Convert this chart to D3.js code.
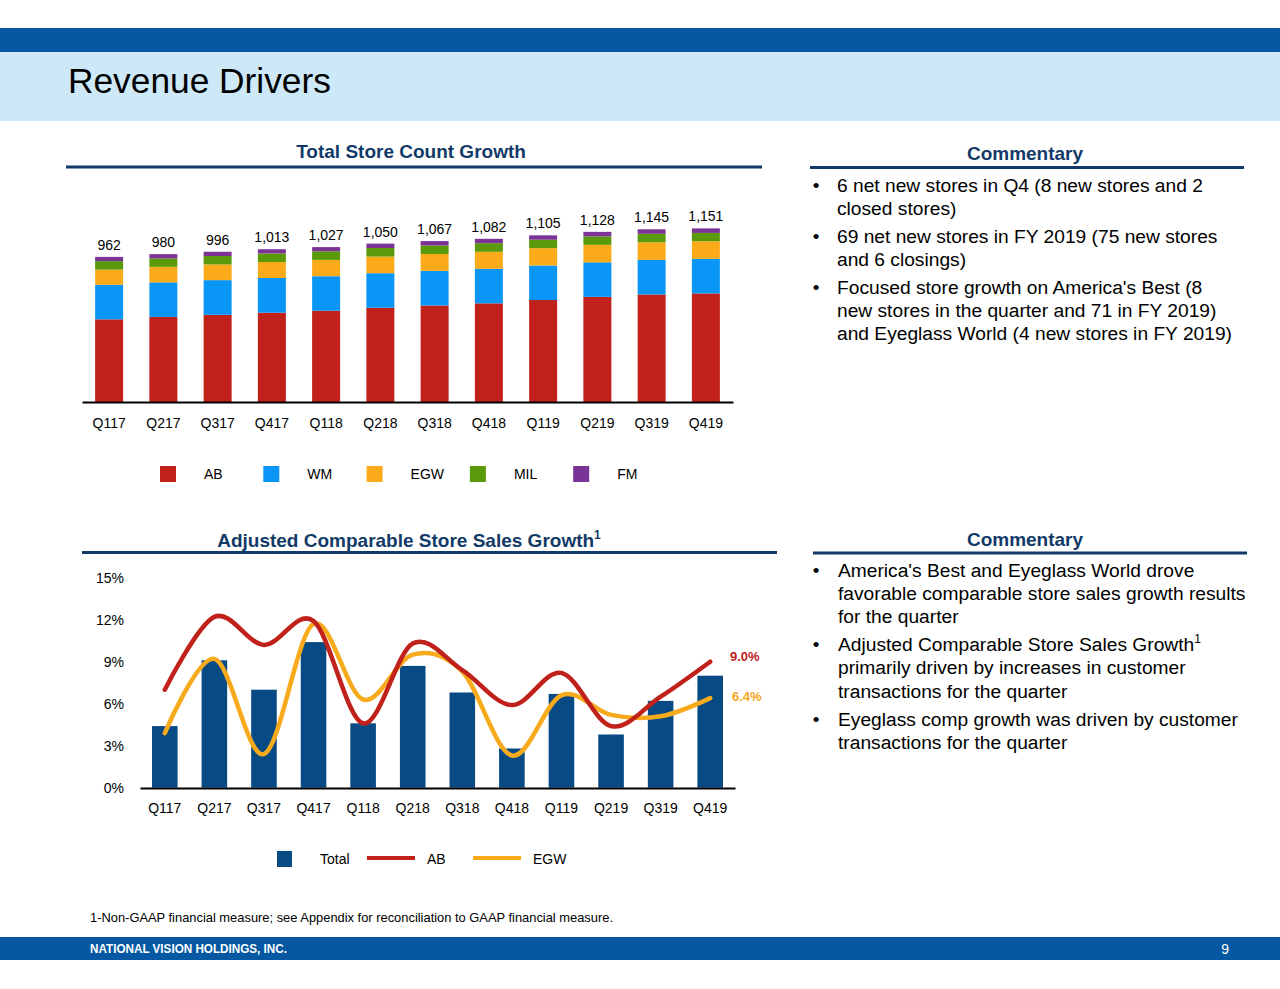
<!DOCTYPE html>
<html><head><meta charset="utf-8">
<script src="https://cdn.jsdelivr.net/npm/d3@7"></script>
<style>
body{margin:0;background:#fff}
svg{display:block;font-family:Arial,"Liberation Sans",sans-serif}
</style>
</head><body>
<svg id="c" width="1280" height="989"></svg>
<script>
// ---------- data ----------
const quarters = ["Q117","Q217","Q317","Q417","Q118","Q218","Q318","Q418","Q119","Q219","Q319","Q419"];
const storeTotals = [962,980,996,1013,1027,1050,1067,1082,1105,1128,1145,1151];
const abStores  = [548,564,578,592,605,625,640,654,676,697,713,720];
const wmStores  = [229,229,230,230,229,229,229,229,229,229,229,229];
const egwStores = [101,103,104,106,108,110,112,113,115,116,117,117];
const milStores = [56,56,56,57,57,57,57,57,56,56,56,55];
const fmStores  = [28,28,28,28,28,29,29,29,29,30,30,30];
const storeSeries = ["AB","WM","EGW","MIL","FM"];
const storeColors = ["#c0211a","#0a96f7","#fbaa19","#5a9a0a","#7b3495"];

const compTotal = [4.4,9.1,7.0,10.4,4.6,8.7,6.8,2.8,6.7,3.8,6.2,8.0];
const compAB    = [7.0,12.2,10.2,11.9,4.6,10.3,8.4,5.9,8.2,4.4,6.5,9.0];
const compEGW   = [3.9,9.2,2.4,11.7,6.3,9.5,8.3,2.3,6.6,5.2,5.1,6.4];
const compTicks = [0,3,6,9,12,15];

const commentary1 = [
  ["6 net new stores in Q4 (8 new stores and 2","closed stores)"],
  ["69 net new stores in FY 2019 (75 new stores","and 6 closings)"],
  ["Focused store growth on America's Best (8","new stores in the quarter and 71 in FY 2019)","and Eyeglass World (4 new stores in FY 2019)"]
];
const commentary2 = [
  ["America's Best and Eyeglass World drove","favorable comparable store sales growth results","for the quarter"],
  ["Adjusted Comparable Store Sales Growth^1","primarily driven by increases in customer","transactions for the quarter"],
  ["Eyeglass comp growth was driven by customer","transactions for the quarter"]
];

const svg = d3.select("#c");
const NAVY = "#123a68";

// ---------- header / footer ----------
svg.append("rect").attr("x",0).attr("y",28).attr("width",1280).attr("height",24).attr("fill","#0558a1");
svg.append("rect").attr("x",0).attr("y",52).attr("width",1280).attr("height",69).attr("fill","#cde9f8");
svg.append("text").attr("x",68).attr("y",93).attr("font-size",35.3).attr("fill","#000").text("Revenue Drivers");

svg.append("rect").attr("x",0).attr("y",937).attr("width",1280).attr("height",23).attr("fill","#0558a1");
svg.append("text").attr("x",90).attr("y",953).attr("font-size",13).attr("font-weight","bold").attr("fill","#fff")
  .attr("textLength",197).attr("lengthAdjust","spacingAndGlyphs").text("NATIONAL VISION HOLDINGS, INC.");
svg.append("text").attr("x",1229).attr("y",954).attr("font-size",14).attr("fill","#fff").attr("text-anchor","end").text("9");
svg.append("text").attr("x",90).attr("y",922).attr("font-size",12.8).attr("fill","#000")
  .attr("textLength",523).attr("lengthAdjust","spacingAndGlyphs")
  .text("1-Non-GAAP financial measure; see Appendix for reconciliation to GAAP financial measure.");

// section headings
function heading(cx, y, txt, sup, x1, x2, ly){
  const t = svg.append("text").attr("x",cx).attr("y",y).attr("text-anchor","middle")
    .attr("font-size",19).attr("font-weight","bold").attr("fill",NAVY);
  t.append("tspan").text(txt);
  if (sup) t.append("tspan").attr("dy",-8).attr("font-size",12).text(sup);
  svg.append("line").attr("x1",x1).attr("x2",x2).attr("y1",ly).attr("y2",ly).attr("stroke",NAVY).attr("stroke-width",3);
}
heading(411,158,"Total Store Count Growth",null,66,762,167);
heading(1025,160,"Commentary",null,810,1244,167.5);
heading(409,547,"Adjusted Comparable Store Sales Growth","1",82,777,552.5);
heading(1025,546,"Commentary",null,813,1247,553);

// commentary bullets
function bullets(list, bx, tx, y0, lh, gap){
  let y = y0;
  list.forEach(b=>{
    svg.append("text").attr("x",bx).attr("y",y).attr("font-size",19).attr("text-anchor","middle").text("•");
    b.forEach(line=>{
      const t = svg.append("text").attr("x",tx).attr("y",y).attr("font-size",19.2).attr("fill","#000");
      if (line.includes("^")) {
        const [a,s] = line.split("^");
        t.append("tspan").text(a);
        t.append("tspan").attr("dy",-8).attr("font-size",12).text(s);
      } else t.text(line);
      y += lh;
    });
    y += gap;
  });
}
bullets(commentary1, 816, 837, 191.5, 23.2, 4.8);
bullets(commentary2, 816, 838, 576.5, 23.3, 4.7);

// ---------- top chart: stacked bars ----------
const x1 = d3.scaleBand().domain(quarters).range([82,733]).paddingInner(0.484).paddingOuter(0.242);
const y1 = d3.scaleLinear().domain([0,1200]).range([402,221]);
const rows = quarters.map((q,i)=>({q, AB:abStores[i], WM:wmStores[i], EGW:egwStores[i], MIL:milStores[i], FM:fmStores[i], total:storeTotals[i]}));
const stacked = d3.stack().keys(storeSeries)(rows);
const g1 = svg.append("g");
stacked.forEach((layer,k)=>{
  g1.selectAll(null).data(layer).join("rect")
    .attr("x",d=>x1(d.data.q)).attr("width",x1.bandwidth())
    .attr("y",d=>y1(d[1])).attr("height",d=>y1(d[0])-y1(d[1]))
    .attr("fill",storeColors[k]);
});
g1.selectAll(null).data(rows).join("text")
  .attr("x",d=>x1(d.q)+x1.bandwidth()/2).attr("y",d=>y1(d.total)-7)
  .attr("text-anchor","middle").attr("font-size",14).text(d=>d3.format(",")(d.total));
const ax1 = svg.append("g").attr("transform","translate(0,402)")
  .call(d3.axisBottom(x1).tickSize(0).tickPadding(16));
ax1.select(".domain").attr("stroke","#000").attr("stroke-width",2);
ax1.selectAll("text").attr("font-size",14).attr("fill","#000").attr("font-family","Arial,'Liberation Sans',sans-serif");

// legend top
storeSeries.forEach((s,i)=>{
  const lx = 160 + i*103.3;
  svg.append("rect").attr("x",lx).attr("y",466).attr("width",16).attr("height",16).attr("fill",storeColors[i]);
  svg.append("text").attr("x",lx+44).attr("y",479).attr("font-size",14).text(s);
});

// ---------- bottom chart ----------
const x2 = d3.scaleBand().domain(quarters).range([140,735]).paddingInner(0.484).paddingOuter(0.242);
const y2 = d3.scaleLinear().domain([0,15]).range([787.7,577.7]);
const g2 = svg.append("g");
g2.selectAll(null).data(quarters).join("rect")
  .attr("x",q=>x2(q)).attr("width",x2.bandwidth())
  .attr("y",(q,i)=>y2(compTotal[i])).attr("height",(q,i)=>y2(0)-y2(compTotal[i]))
  .attr("fill","#074a84");
const cx = q=>x2(q)+x2.bandwidth()/2;
const line = vals => d3.line().x((d,i)=>cx(quarters[i])).y(d=>y2(d)).curve(d3.curveCardinal.tension(0))(vals);
g2.append("path").attr("d",line(compEGW)).attr("fill","none").attr("stroke","#f7aa1c").attr("stroke-width",4.5).attr("stroke-linecap","round");
g2.append("path").attr("d",line(compAB)).attr("fill","none").attr("stroke","#c0211a").attr("stroke-width",4.5).attr("stroke-linecap","round");

svg.append("text").attr("x",730).attr("y",661).attr("font-size",13).attr("font-weight","bold").attr("fill","#c0211a")
  .text(d3.format(".1f")(compAB[11])+"%");
svg.append("text").attr("x",732).attr("y",701).attr("font-size",13).attr("font-weight","bold").attr("fill","#f5a623")
  .text(d3.format(".1f")(compEGW[11])+"%");

const ax2 = svg.append("g").attr("transform","translate(0,788)")
  .call(d3.axisBottom(x2).tickSize(0).tickPadding(15));
ax2.select(".domain").attr("stroke","#000").attr("stroke-width",2);
ax2.selectAll("text").attr("font-size",14).attr("fill","#000").attr("font-family","Arial,'Liberation Sans',sans-serif");

const ay2 = svg.append("g").attr("transform","translate(124,0)")
  .call(d3.axisLeft(y2).tickValues(compTicks).tickSize(0).tickPadding(0).tickFormat(d=>d+"%"));
ay2.select(".domain").remove();
ay2.selectAll("text").attr("font-size",14).attr("fill","#000").attr("font-family","Arial,'Liberation Sans',sans-serif");

// legend bottom
svg.append("rect").attr("x",277).attr("y",851).attr("width",15).attr("height",16).attr("fill","#074a84");
svg.append("text").attr("x",320).attr("y",864).attr("font-size",14).text("Total");
svg.append("line").attr("x1",367).attr("x2",415).attr("y1",858).attr("y2",858).attr("stroke","#c0211a").attr("stroke-width",4);
svg.append("text").attr("x",427).attr("y",864).attr("font-size",14).text("AB");
svg.append("line").attr("x1",473).attr("x2",521).attr("y1",858).attr("y2",858).attr("stroke","#f7aa1c").attr("stroke-width",4);
svg.append("text").attr("x",533).attr("y",864).attr("font-size",14).text("EGW");
</script>
</body></html>
